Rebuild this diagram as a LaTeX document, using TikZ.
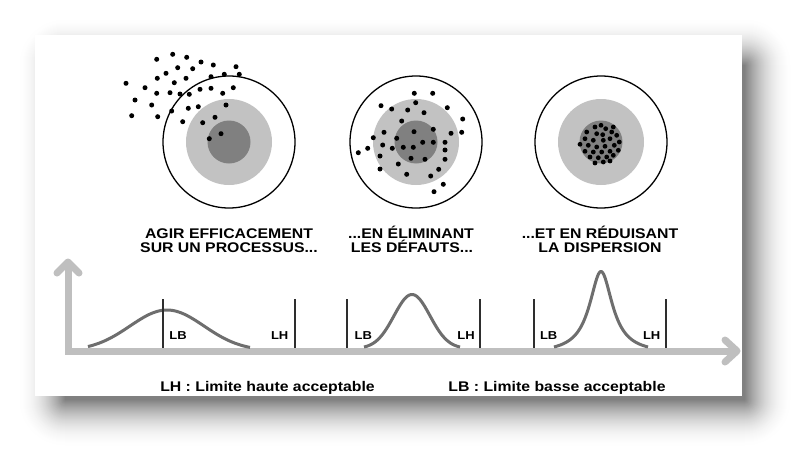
\documentclass[tikz,border=0pt]{standalone}
\usepackage{fontspec}
\setmainfont{Liberation Sans}[FakeStretch=1.13]
\usepackage{tikz}
\definecolor{lightzone}{HTML}{C2C2C2}
\definecolor{darkzone}{HTML}{808080}
\definecolor{bellgray}{HTML}{6E6E6E}
\definecolor{axisgray}{HTML}{BFBFBF}
\definecolor{limitgray}{HTML}{2E2E2E}

\begin{document}
\begin{tikzpicture}[
  x=1pt, y=-1pt,
  ring/.style={draw=black, line width=1.3pt, fill=white},
  zone/.style={fill=lightzone},
  core/.style={fill=darkzone},
  hit/.style={fill=black},
  caption/.style={font=\bfseries\fontsize{14}{14}\selectfont, anchor=base, inner sep=0pt},
  limtext/.style={font=\bfseries\fontsize{11.5}{11.5}\selectfont, anchor=base, inner sep=0pt},
  limit/.style={draw=limitgray, line width=1.6pt},
  bell/.style={draw=bellgray, line width=3pt},
  axis/.style={draw=axisgray, line width=7pt, line cap=round, line join=round}
]
  \useasboundingbox (0,0) rectangle (808,463);
  \fill[white] (0,0) rectangle (808,463);

  % card with its shadow
  \foreach \k in {48,47,...,0} {
    \pgfmathsetmacro\p{50*(1-\k/48)^2}
    \fill[black!\p, rounded corners=\k pt+0.5pt] (65-\k,65-\k) rectangle (745+\k,400+\k);
  }
  \fill[white] (35,35) rectangle (741.5,395.5);

  % targets
  \foreach \cx in {229,416,601} {
    \draw[ring] (\cx,142) circle[radius=66];
    \fill[zone] (\cx,142) circle[radius=43];
    \fill[core] (\cx,142) circle[radius=21.5];
  }

  \foreach \px/\py in {156.7/59.3, 172.7/54.3, 186.7/57.3, 201/62, 213.3/65, 236/66.7,
      239.3/74.3, 224.3/74.3, 211/76.7, 177.7/67.7, 192.7/68.7, 166/73.3, 157.3/78.3,
      186/78.3, 174.3/82.7, 126/83.3, 145/87.7, 156.7/93.3, 170/92.7, 180/94, 189.3/94.3,
      200/89.3, 211/88.3, 222.7/93.3, 233.3/87.7, 135/100, 151.7/105, 171.7/111,
      188.3/108.3, 198.3/106.7, 226/105, 131.7/115.7, 157.7/116.7, 182.7/121.7,
      202.7/122.7, 215/117.3, 221/133.7, 209.3/138.7}
    \fill[hit] (\px,\py) circle[radius=2.5];

  \foreach \px/\py in {414.3/93.3, 432.7/93.3, 415.7/102.7, 381/105.7, 391.7/109, 407.7/110,
      424/112.7, 447.3/107.7, 462.7/119, 401.7/121, 433.3/129.3, 414/131.7, 384/132.3,
      451/133.3, 461.7/132.3, 373.3/137.7, 396.7/138.3, 422.7/142.3, 433.3/142.3,
      445/142.3, 382.7/145, 403.3/147.3, 413.3/147.3, 392.3/148.3, 367.7/148.3,
      358.3/152.7, 445/150, 380/156, 411/158.3, 425/159.3, 445/159.3, 398.3/164,
      380/169, 438.7/169.3, 406.7/174.3, 430.7/176, 443.3/184.3, 434/191.7}
    \fill[hit] (\px,\py) circle[radius=2.5];

  \foreach \px/\py in {601/125.3, 595/127, 605.7/128.7, 613.3/127, 586.7/132, 596.7/133.7,
      602.7/134.7, 611.7/132, 616.7/135.3, 585/138.7, 593.3/140.3, 603.3/140.3,
      610/138.7, 619.3/142, 580/144.3, 588.3/145.3, 596.7/147, 605/146.3, 614.3/145.3,
      585/151.3, 593.3/152, 601.7/152, 610/151.3, 618.3/150.3, 590/157, 598.3/157.7,
      606.7/157, 613.3/155.3, 595/163, 603.3/162, 610/161}
    \fill[hit] (\px,\py) circle[radius=2.4];

  % captions
  \node[caption] (capAa) at (229,238) {AGIR EFFICACEMENT};
  \node[caption] (capAb) at (229,252) {SUR UN PROCESSUS...};
  \node[caption] (capBa) at (411,238) {...EN ÉLIMINANT};
  \node[caption] (capBb) at (412,252) {LES DÉFAUTS...};
  \node[caption] (capCa) at (600,238) {...ET EN RÉDUISANT};
  \node[caption] (capCb) at (600,252) {LA DISPERSION};

  % axes
  \coordinate (origin) at (68,351);
  \coordinate (ytip) at (68,262);
  \coordinate (xtip) at (737,351);
  \draw[axis, line cap=butt, line join=miter] (ytip) -- (origin) -- (xtip);
  \draw[axis] (57,273) -- (ytip) -- (79,273);
  \draw[axis] (725,340) -- (xtip) -- (725,362);

  % distributions
  \draw[bell] plot[domain=88:250, samples=90]
    (\x, {347-37*(exp(-0.5*((\x-167)/37)^2)-0.091)/0.909});
  \draw[bell] plot[domain=364:460, samples=90]
    (\x, {347-52.5*(exp(-0.5*((\x-412)/18)^2)-0.0286)/0.9714});
  \draw[bell] plot[domain=554:648, samples=140]
    (\x, {347-75.5*(1/(1+((\x-601)/14)^2)-0.0815)/0.9185});

  % limits
  \foreach \lx in {163,295,347,480,534,666}
    \draw[limit] (\lx,299) -- (\lx,347.5);
  \node[limtext] (lbA) at (178,339.5) {LB};
  \node[limtext] (lhA) at (279.7,339.5) {LH};
  \node[limtext] (lbB) at (363.3,339.5) {LB};
  \node[limtext] (lhB) at (466,339.5) {LH};
  \node[limtext] (lbC) at (548.7,339.5) {LB};
  \node[limtext] (lhC) at (651.7,339.5) {LH};

  % legend
  \node[caption] (legLH) at (267.5,391.5) {LH : Limite haute acceptable};
  \node[caption] (legLB) at (557,391.5) {LB : Limite basse acceptable};
\end{tikzpicture}
\end{document}
